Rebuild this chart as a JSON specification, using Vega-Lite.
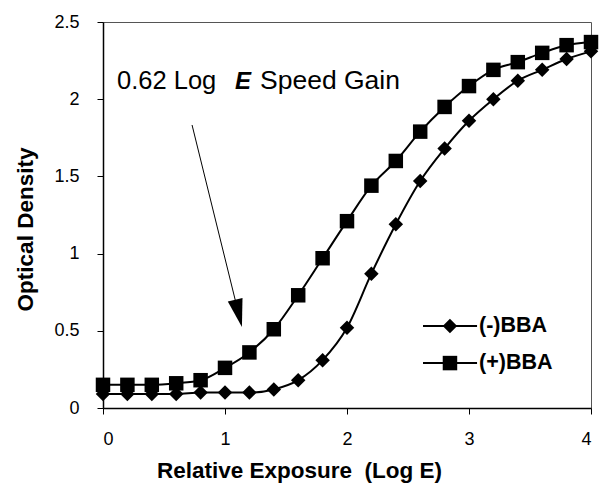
{
  "$schema": "https://vega.github.io/schema/vega-lite/v6.json",
  "autosize": {"type": "none"},
  "padding": {"left": 103, "top": 22, "right": 11, "bottom": 91},
  "width": 488,
  "height": 386,
  "config": {
    "font": "Liberation Sans",
    "view": {"stroke": "#555", "strokeWidth": 1},
    "axis": {"grid": false, "domainColor": "black", "domainWidth": 1.5, "tickColor": "black", "tickWidth": 1, "labelColor": "black", "titleColor": "black", "labelFontSize": 18, "titleFontSize": 22.5, "titleFontWeight": "bold", "labelFont": "Liberation Sans", "titleFont": "Liberation Sans"}
  },
  "datasets": {
    "curves": [
      {"x": 0.0, "y": 0.09, "series": "(-)BBA"},
      {"x": 0.2, "y": 0.09, "series": "(-)BBA"},
      {"x": 0.4, "y": 0.09, "series": "(-)BBA"},
      {"x": 0.6, "y": 0.09, "series": "(-)BBA"},
      {"x": 0.8, "y": 0.1, "series": "(-)BBA"},
      {"x": 1.0, "y": 0.1, "series": "(-)BBA"},
      {"x": 1.2, "y": 0.1, "series": "(-)BBA"},
      {"x": 1.4, "y": 0.12, "series": "(-)BBA"},
      {"x": 1.6, "y": 0.18, "series": "(-)BBA"},
      {"x": 1.8, "y": 0.31, "series": "(-)BBA"},
      {"x": 2.0, "y": 0.52, "series": "(-)BBA"},
      {"x": 2.2, "y": 0.87, "series": "(-)BBA"},
      {"x": 2.4, "y": 1.19, "series": "(-)BBA"},
      {"x": 2.6, "y": 1.47, "series": "(-)BBA"},
      {"x": 2.8, "y": 1.68, "series": "(-)BBA"},
      {"x": 3.0, "y": 1.86, "series": "(-)BBA"},
      {"x": 3.2, "y": 2.0, "series": "(-)BBA"},
      {"x": 3.4, "y": 2.12, "series": "(-)BBA"},
      {"x": 3.6, "y": 2.19, "series": "(-)BBA"},
      {"x": 3.8, "y": 2.26, "series": "(-)BBA"},
      {"x": 4.0, "y": 2.31, "series": "(-)BBA"},
      {"x": 0.0, "y": 0.15, "series": "(+)BBA"},
      {"x": 0.2, "y": 0.15, "series": "(+)BBA"},
      {"x": 0.4, "y": 0.15, "series": "(+)BBA"},
      {"x": 0.6, "y": 0.16, "series": "(+)BBA"},
      {"x": 0.8, "y": 0.18, "series": "(+)BBA"},
      {"x": 1.0, "y": 0.26, "series": "(+)BBA"},
      {"x": 1.2, "y": 0.36, "series": "(+)BBA"},
      {"x": 1.4, "y": 0.51, "series": "(+)BBA"},
      {"x": 1.6, "y": 0.73, "series": "(+)BBA"},
      {"x": 1.8, "y": 0.97, "series": "(+)BBA"},
      {"x": 2.0, "y": 1.21, "series": "(+)BBA"},
      {"x": 2.2, "y": 1.44, "series": "(+)BBA"},
      {"x": 2.4, "y": 1.6, "series": "(+)BBA"},
      {"x": 2.6, "y": 1.79, "series": "(+)BBA"},
      {"x": 2.8, "y": 1.95, "series": "(+)BBA"},
      {"x": 3.0, "y": 2.085, "series": "(+)BBA"},
      {"x": 3.2, "y": 2.19, "series": "(+)BBA"},
      {"x": 3.4, "y": 2.24, "series": "(+)BBA"},
      {"x": 3.6, "y": 2.3, "series": "(+)BBA"},
      {"x": 3.8, "y": 2.35, "series": "(+)BBA"},
      {"x": 4.0, "y": 2.37, "series": "(+)BBA"}
    ],
    "arrow": [
      {"x": 0.73, "y": 1.833},
      {"x": 1.09, "y": 0.68}
    ],
    "legend": [
      {"series": "(-)BBA", "ly": 0.531},
      {"series": "(+)BBA", "ly": 0.291}
    ]
  },
  "layer": [
    {
      "data": {"name": "curves"},
      "mark": {"type": "line", "interpolate": "monotone", "color": "black", "strokeWidth": 2},
      "encoding": {
        "x": {"field": "x", "type": "quantitative", "scale": {"domain": [0, 4], "nice": false},
          "axis": {"values": [0, 1, 2, 3, 4], "format": "~g", "tickSize": 6, "labelPadding": 16, "title": "Relative Exposure\u00a0\u00a0(Log E)", "titleX": 196, "titleY": 62, "titleBaseline": "middle", "titleAlign": "center"}},
        "y": {"field": "y", "type": "quantitative", "scale": {"domain": [0, 2.5], "nice": false},
          "axis": {"values": [0, 0.5, 1, 1.5, 2, 2.5], "format": "~g", "tickSize": 6, "labelPadding": 18, "title": "Optical Density", "titleX": -78, "titleY": 207, "titleAngle": -90, "titleBaseline": "middle", "titleAlign": "center"}},
        "detail": {"field": "series"}
      }
    },
    {
      "data": {"name": "curves"},
      "mark": {"type": "point", "filled": true, "color": "black", "opacity": 1, "size": 210},
      "encoding": {
        "x": {"field": "x", "type": "quantitative"},
        "y": {"field": "y", "type": "quantitative"},
        "shape": {"field": "series", "type": "nominal", "scale": {"domain": ["(-)BBA", "(+)BBA"], "range": ["diamond", "square"]}, "legend": null}
      }
    },
    {
      "data": {"name": "legend"},
      "mark": {"type": "rule", "color": "black", "strokeWidth": 2},
      "encoding": {"x": {"datum": 2.623}, "x2": {"datum": 3.066}, "y": {"field": "ly", "type": "quantitative"}}
    },
    {
      "data": {"name": "legend"},
      "mark": {"type": "point", "filled": true, "color": "black", "opacity": 1, "size": 210},
      "encoding": {"x": {"datum": 2.844}, "y": {"field": "ly", "type": "quantitative"},
        "shape": {"field": "series", "type": "nominal", "scale": {"domain": ["(-)BBA", "(+)BBA"], "range": ["diamond", "square"]}, "legend": null}}
    },
    {
      "data": {"name": "legend"},
      "mark": {"type": "text", "align": "left", "baseline": "middle", "fontSize": 21.5, "fontWeight": "bold", "color": "black", "dx": 2},
      "encoding": {"x": {"datum": 3.066}, "y": {"field": "ly", "type": "quantitative"}, "text": {"field": "series"}}
    },
    {
      "data": {"name": "arrow"},
      "mark": {"type": "line", "color": "black", "strokeWidth": 1},
      "encoding": {"x": {"field": "x", "type": "quantitative"}, "y": {"field": "y", "type": "quantitative"}}
    },
    {
      "data": {"values": [{}]},
      "mark": {"type": "point", "filled": true, "color": "black", "opacity": 1, "size": 784, "strokeWidth": 0, "shape": "M-0.54,-1L0.54,-1L0,1Z", "angle": 346},
      "encoding": {"x": {"datum": 1.111}, "y": {"datum": 0.613}}
    },
    {
      "data": {"values": [{}]},
      "mark": {"type": "text", "align": "left", "baseline": "alphabetic", "fontSize": 25.5, "color": "black"},
      "encoding": {"x": {"datum": 0.115}, "y": {"datum": 2.066}, "text": {"value": "0.62 Log"}}
    },
    {
      "data": {"values": [{}]},
      "mark": {"type": "text", "align": "left", "baseline": "alphabetic", "fontSize": 24, "fontWeight": "bold", "fontStyle": "italic", "color": "black"},
      "encoding": {"x": {"datum": 1.082}, "y": {"datum": 2.066}, "text": {"value": "E"}}
    },
    {
      "data": {"values": [{}]},
      "mark": {"type": "text", "align": "left", "baseline": "alphabetic", "fontSize": 26.5, "color": "black"},
      "encoding": {"x": {"datum": 1.287}, "y": {"datum": 2.066}, "text": {"value": "Speed Gain"}}
    }
  ]
}
